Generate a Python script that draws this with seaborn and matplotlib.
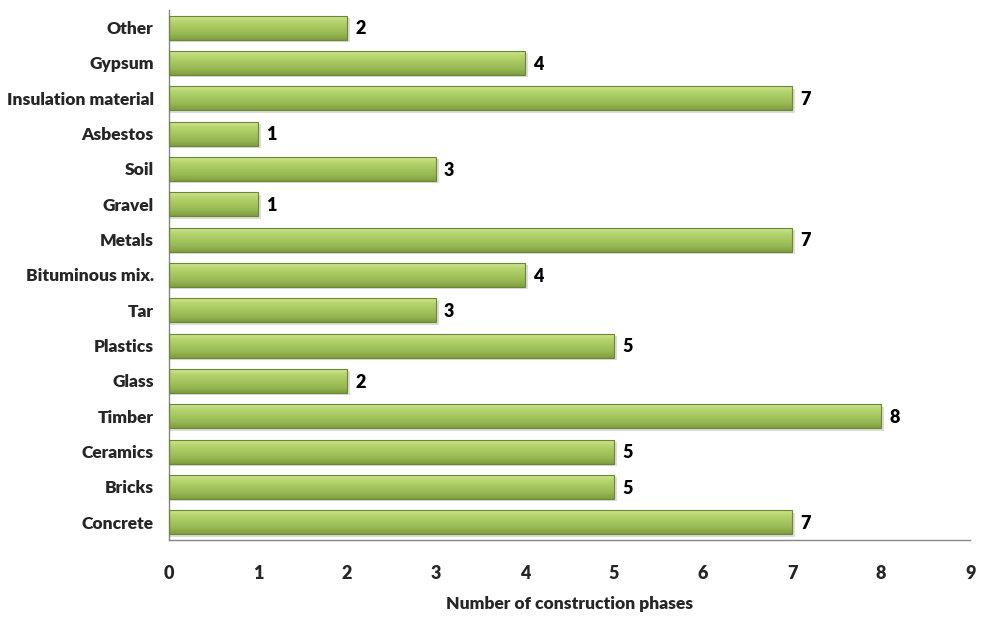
import numpy as np
import pandas as pd
import matplotlib
matplotlib.use("Agg")
import matplotlib.pyplot as plt
import seaborn as sns
from matplotlib.colors import LinearSegmentedColormap

categories = ["Other", "Gypsum", "Insulation material", "Asbestos", "Soil", "Gravel",
              "Metals", "Bituminous mix.", "Tar", "Plastics", "Glass", "Timber",
              "Ceramics", "Bricks", "Concrete"]
values = [2, 4, 7, 1, 3, 1, 7, 4, 3, 5, 2, 8, 5, 5, 7]
x_ticks = [0, 1, 2, 3, 4, 5, 6, 7, 8, 9]
x_label = "Number of construction phases"

df = pd.DataFrame({"category": categories, "value": values})

sns.set_style("white")
plt.rcParams["font.family"] = ["Lato", "DejaVu Sans"]
plt.rcParams["font.weight"] = "bold"

fig = plt.figure(figsize=(9.88, 6.17), dpi=100)
ax = fig.add_axes([0.171, 0.125, 0.811, 0.859])

sns.barplot(data=df, y="category", x="value", orient="h", color="#9bbb59",
            width=0.68, ax=ax, saturation=1)

cmap = LinearSegmentedColormap.from_list(
    "g", ["#cfe79a", "#b7d56e", "#a6c660", "#98b853", "#7f9e40"])
grad = np.linspace(0, 1, 64).reshape(-1, 1)
for p in list(ax.patches):
    x0, y0 = p.get_x(), p.get_y()
    w, h = p.get_width(), p.get_height()
    p.set_facecolor("none")
    p.set_edgecolor("#6b8733")
    p.set_linewidth(0.8)
    # shadow
    ax.add_patch(plt.Rectangle((x0, y0 + 0.07), w + 0.03, h, facecolor="#dcdcdc",
                               edgecolor="none", zorder=1.5))
    im = ax.imshow(grad, cmap=cmap, aspect="auto", extent=(x0, x0 + w, y0 + h, y0),
                   zorder=2, interpolation="bilinear")
    im.set_clip_path(p)
    p.set_zorder(3)
    ax.text(x0 + w + 0.09, y0 + h / 2 + 0.04, f"{int(w)}", va="center", ha="left",
            fontsize=13, fontweight="heavy", color="black")

ax.set_xlim(0, 9)
ax.set_ylim(len(categories) - 0.5, -0.5)
ax.set_xticks(x_ticks)
ax.set_xticklabels([str(t) for t in x_ticks], fontsize=13, fontweight="heavy")
ax.set_yticks(range(len(categories)))
ax.set_yticklabels(categories, fontsize=12.5, fontweight="heavy")
ax.set_yticks(np.arange(-0.5, len(categories), 1.0), minor=True)
ax.tick_params(axis="y", which="major", length=0, pad=11)
ax.tick_params(axis="y", which="minor", length=5, color="#868686", width=1)
ax.tick_params(axis="x", which="major", length=5, color="#868686", width=1,
               direction="out", pad=13)
ax.set_xlabel(x_label, fontsize=12.5, fontweight="heavy", labelpad=10)
ax.set_ylabel("")
for s in ["top", "right"]:
    ax.spines[s].set_visible(False)
for s in ["left", "bottom"]:
    ax.spines[s].set_color("#868686")
    ax.spines[s].set_linewidth(1)

fig.savefig("out.png", dpi=100)
